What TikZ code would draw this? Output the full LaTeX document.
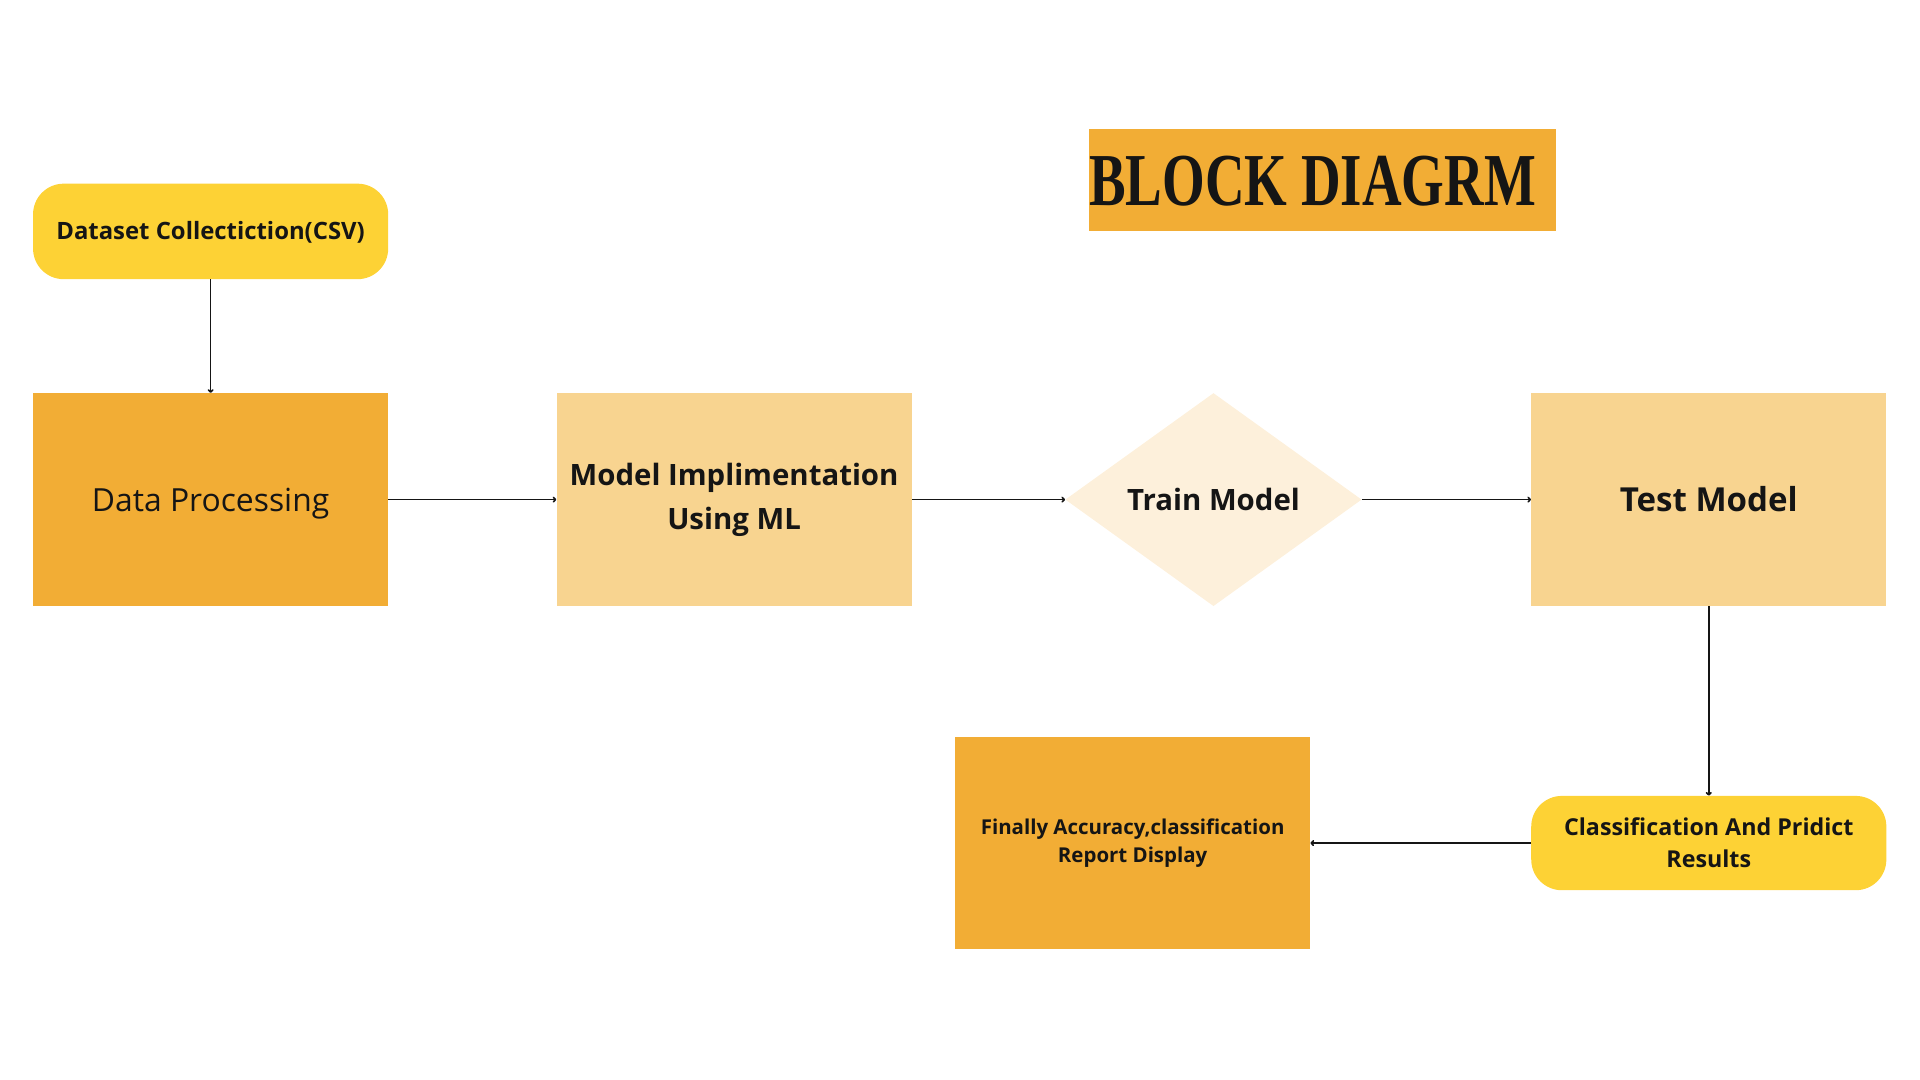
\documentclass[tikz,border=0pt]{standalone}
\usepackage{fontspec}
\setmainfont{Open Sans}
\newfontfamily\titlefont{Liberation Serif}
\usepackage{xcolor}
\usetikzlibrary{arrows.meta,shapes.geometric,positioning}
\definecolor{boxorange}{HTML}{F2AD35}
\definecolor{boxyellow}{HTML}{FDD235}
\definecolor{boxlight}{HTML}{F8D490}
\definecolor{boxpale}{HTML}{FDF0DB}
\definecolor{ink}{HTML}{151515}
\tikzset{
	>={To[length=3pt,width=5pt]},
	every edge/.style={draw=ink, line width=1.3pt},
	block/.style = {
			rectangle,
			minimum width  = 290pt,
			minimum height = 174pt,
			inner sep = 0pt,
			align = center,
			text = ink,
		},
	roundblock/.style = {
			rectangle,
			rounded corners = 25pt,
			fill = boxyellow,
			minimum width  = 290pt,
			minimum height = 78pt,
			inner sep = 0pt,
			align = center,
			text = ink,
		}
}
\begin{document}
\begin{tikzpicture}[x=1pt,y=-1pt]
			\useasboundingbox (0,0) rectangle (1568,882);

			% title
			\fill[boxorange] (889,105) rectangle (1271,189);
			\node[xscale=0.735, text=ink, font={\titlefont\fontsize{61}{61}\selectfont\bfseries}] (title) at (1072,148) {BLOCK DIAGRM};

			% top row
			\node[roundblock, font={\fontsize{19.5}{23}\selectfont\bfseries}, text depth=0pt, text height=14pt] (dataset) at (172,189) {Dataset Collectiction(CSV)};
			\node[block, fill=boxorange, font={\fontsize{26}{30}\selectfont}, text height=19pt, text depth=0pt] (processing) at (172,408) {Data Processing};
			\node[block, fill=boxlight, font={\fontsize{24}{36}\selectfont\bfseries}] (implement) at (599.5,408) {Model Implimentation\\ Using ML};
			\node[diamond, fill=boxpale, aspect=1.39, minimum width=242pt, minimum height=174pt, inner sep=0pt, text=ink, font={\fontsize{24}{28}\selectfont\bfseries}] (train) at (991,408) {Train Model};
			\node[block, fill=boxlight, font={\fontsize{27}{32}\selectfont\bfseries}] (test) at (1395.5,408) {Test Model};

			% bottom row
			\node[roundblock, minimum height=77pt, font={\fontsize{19}{26}\selectfont\bfseries}] (result) at (1395.5,688.5) {Classification And Pridict\\ Results};
			\node[block, fill=boxorange, minimum height=173pt, font={\fontsize{16.7}{23}\selectfont\bfseries}] (report) at (925,688.5) {Finally Accuracy,classification\\ Report Display};

			% arrows
			\draw[->] (dataset) edge (processing)
				(processing) edge (implement)
				(implement) edge (train)
				(train) edge (test)
				(test) edge (result)
				(result) edge (report);
		\end{tikzpicture}
\end{document}
